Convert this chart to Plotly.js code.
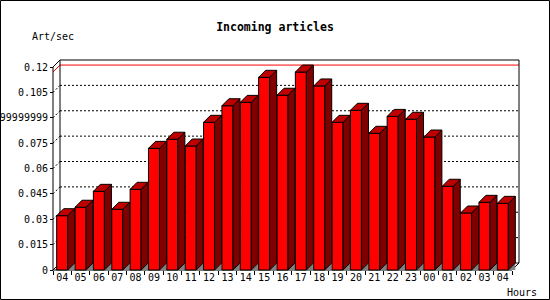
<!DOCTYPE html>
<html>
<head>
<meta charset="utf-8">
<script src="https://cdn.plot.ly/plotly-3.0.1.min.js"></script>
<style>html,body{margin:0;padding:0;background:#fff;}#chart{width:550px;height:300px;}</style>
</head>
<body>
<div id="chart"></div>
<script>
// ---- data ----
const hours = ["04","05","06","07","08","09","10","11","12","13","14","15","16","17","18","19","20","21","22","23","00","01","02","03","04"];
const articlesPerSec = [0.0321,0.0371,0.0465,0.0359,0.0477,0.0719,0.0773,0.0733,0.0873,0.0971,0.0991,0.1139,0.1033,0.1170,0.1088,0.0873,0.0944,0.0808,0.0908,0.0891,0.0786,0.0495,0.0337,0.0400,0.0394];
const yTickVals = [0,0.015,0.03,0.045,0.06,0.075,0.09,0.105,0.12];
const yTickText = ["0","0.015","0.03","0.045","0.06","0.075","0.0899999999999","0.105","0.12"];
const gridVals = [0.015,0.03,0.045,0.06,0.075,0.09,0.105];
const titleText = "Incoming articles";
const yUnit = "Art/sec";
const xUnit = "Hours";

// ---- geometry (pixels) ----
const n = hours.length;
const cx = 18.36;          // px per category
const yMax = 0.12;
const py = 203 / yMax;     // px per unit value
const D = 7;               // depth px
const pad = 2;
const plotW = n * cx + D + 2 * pad;
const plotH = yMax * py + D + 2 * pad;
const L = 53 - pad, T = 270 - yMax * py - D - pad;
const R = 550 - L - plotW, B = 300 - T - plotH;
const dxu = D / cx, dyu = D / py;
const barW = 0.6;

const xs = hours.map((h, i) => i + 0.5);
const fnt = "DejaVu Sans Mono, Liberation Mono, monospace";

const shapes = [];
function poly(pts, fill, layer, lineColor, lw) {
  const p = "M" + pts.map(q => q[0] + "," + q[1]).join(" L") + " Z";
  shapes.push({type: "path", xref: "x", yref: "y", path: p, fillcolor: fill,
    line: {color: lineColor || "black", width: lw === undefined ? 1 : lw}, layer: layer});
}
function seg(x0, y0, x1, y1, color, dash, layer) {
  shapes.push({type: "line", xref: "x", yref: "y", x0: x0, y0: y0, x1: x1, y1: y1,
    line: {color: color, width: 1, dash: dash || "solid"}, layer: layer || "below"});
}

// back plane grid lines
gridVals.forEach(v => {
  seg(dxu, v + dyu, n + dxu, v + dyu, "black", "2px,2px");
  seg(0, v, dxu, v + dyu, "black", "2px,2px");
});
// max line
const vmax = Math.max.apply(null, articlesPerSec);
seg(0, vmax, dxu, vmax + dyu, "#ff0000");
seg(dxu, vmax + dyu, n + dxu, vmax + dyu, "#ff0000");
// back box
shapes.push({type: "rect", xref: "x", yref: "y", x0: dxu, y0: dyu, x1: n + dxu, y1: yMax + dyu,
  line: {color: "black", width: 1}, fillcolor: "rgba(0,0,0,0)", layer: "below"});
// front axis frame
seg(0, 0, 0, yMax, "black");
seg(0, yMax, dxu, yMax + dyu, "black");
seg(0, 0, n, 0, "black");
seg(0, 0, dxu, dyu, "black");
seg(n, 0, n + dxu, dyu, "black");

// 3D bar faces
articlesPerSec.forEach((v, i) => {
  const x0 = xs[i] - barW / 2, x1 = xs[i] + barW / 2;
  poly([[x1, 0], [x1 + dxu, dyu], [x1 + dxu, 0]], "#808080", "below", "#808080", 0);
  poly([[x1, 0], [x1, v], [x1 + dxu, v + dyu], [x1 + dxu, dyu]], "#800000", "above");
  poly([[x0, v], [x0 + dxu, v + dyu], [x1 + dxu, v + dyu], [x1, v]], "#c00000", "above");
});

// outer frame
shapes.push({type: "rect", xref: "paper", yref: "paper",
  x0: (0.5 - L) / plotW, x1: (549.5 - L) / plotW,
  y0: (T + plotH - 299.5) / plotH, y1: (T + plotH - 0.5) / plotH,
  line: {color: "black", width: 1}, fillcolor: "rgba(0,0,0,0)", layer: "above"});

const trace = {
  type: "bar", x: xs, y: articlesPerSec, width: barW,
  marker: {color: "#ff0000", line: {color: "black", width: 1}},
  hoverinfo: "skip"
};

const layout = {
  width: 550, height: 300,
  margin: {l: L, r: R, t: T, b: B, pad: 0},
  paper_bgcolor: "white", plot_bgcolor: "white",
  showlegend: false,
  font: {family: fnt, size: 10, color: "black"},
  title: {text: "<b>" + titleText + "</b>", font: {family: fnt, size: 11.5, color: "black"},
    xref: "container", yref: "container", x: 0.5, xanchor: "center", y: 1 - 27 / 300, yanchor: "middle"},
  xaxis: {range: [-pad / cx, n + (D + pad) / cx], anchor: "free", position: pad / plotH,
    tickmode: "array", tickvals: xs, ticktext: hours, ticks: "", showgrid: false, zeroline: false,
    showline: false, tickfont: {family: fnt, size: 10, color: "black"},
    minor: {tick0: 0, dtick: 1, ticks: "outside", ticklen: 4, tickcolor: "black", showgrid: false}},
  yaxis: {range: [-pad / py, yMax + (D + pad) / py], anchor: "free", position: pad / plotW,
    tickmode: "array", tickvals: yTickVals, ticktext: yTickText, ticks: "outside", ticklen: 3,
    tickcolor: "black", showgrid: false, zeroline: false, showline: false,
    tickfont: {family: fnt, size: 10, color: "black"}},
  shapes: shapes,
  annotations: [
    {text: yUnit, xref: "paper", yref: "paper", x: (30 - L) / plotW, y: (T + plotH - 37) / plotH,
      xanchor: "left", yanchor: "middle", showarrow: false, font: {family: fnt, size: 10, color: "black"}},
    {text: xUnit, xref: "paper", yref: "paper", x: (505 - L) / plotW, y: (T + plotH - 292) / plotH,
      xanchor: "left", yanchor: "middle", showarrow: false, font: {family: fnt, size: 10, color: "black"}}
  ]
};

Plotly.newPlot("chart", [trace], layout, {staticPlot: true, displayModeBar: false});
</script>
</body>
</html>
